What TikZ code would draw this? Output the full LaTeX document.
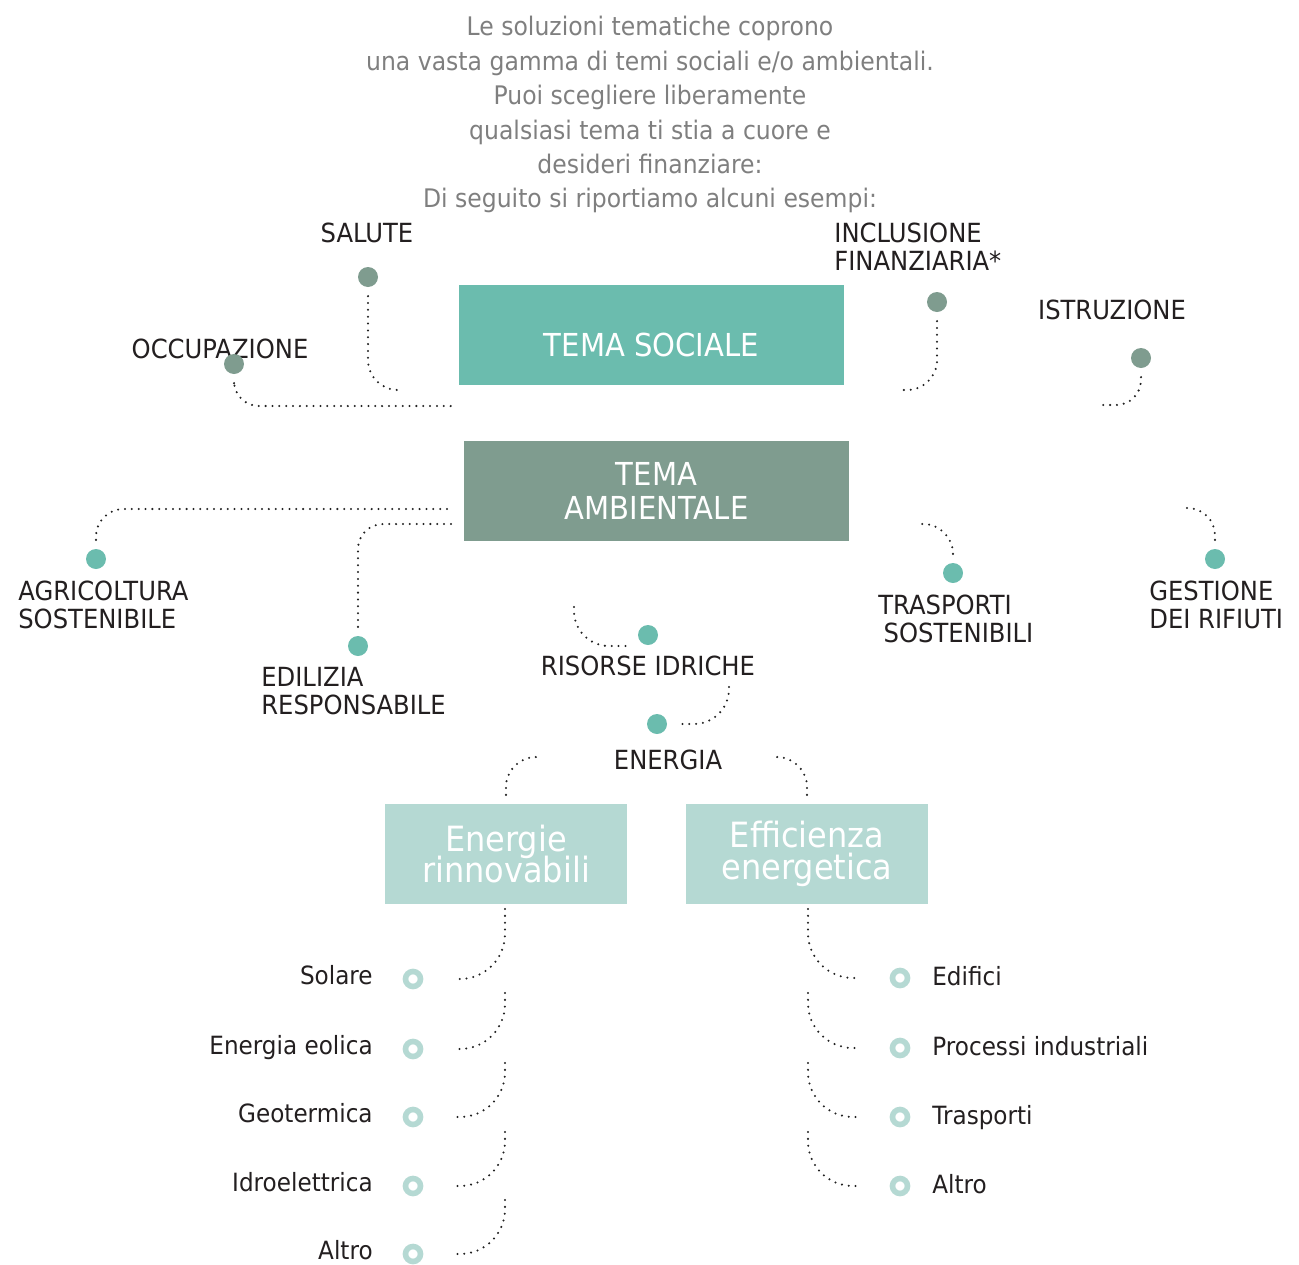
\documentclass[tikz,border=0pt]{standalone}
\usepackage{fontspec}
\setmainfont{DejaVu Sans}[FakeStretch=0.92]
\definecolor{socteal}{HTML}{6BBCAE}
\definecolor{ambsage}{HTML}{7F9C8F}
\definecolor{enlight}{HTML}{B5D9D3}
\definecolor{txtgray}{HTML}{7F7F7F}
\definecolor{txtdark}{HTML}{231F20}
\definecolor{lnkdark}{HTML}{222222}
\newcommand\tightlines{\lineskiplimit-10pt\relax}

\begin{document}
\begin{tikzpicture}[x=0.02cm,y=-0.02cm,
  box/.style={minimum width=7.7cm,minimum height=2cm,inner sep=0pt,text=white,
    font=\fontsize{18}{19.4}\selectfont,align=center},
  sub/.style={box,fill=enlight,minimum width=4.84cm,
    font=\fontsize{19.8}{18}\selectfont\tightlines},
  bullet/.style={circle,fill=#1,minimum size=0.4cm,inner sep=0pt},
  ring/.style={circle,draw=enlight,line width=3.2pt,minimum size=0.3cm,inner sep=0pt},
  lab/.style={text=txtdark,inner sep=0pt,font=\fontsize{15}{15.9}\selectfont},
  item/.style={lab,font=\fontsize{14.3}{15.9}\selectfont},
  lnk/.style={draw=lnkdark,line width=1.3pt,line cap=round,
    dash pattern=on 0pt off 3.9pt,rounded corners=#1},
  lnk/.default=0.6cm,
  gap/.style={shorten <=5pt}]
  \useasboundingbox (0,0) rectangle (1299,1265);

  % intro text
  \node[text=txtgray,align=center,inner sep=0pt,anchor=north,
    font=\fontsize{14.55}{19.6}\selectfont] (intro) at (650,16)
    {Le soluzioni tematiche coprono\\
     una vasta gamma di temi sociali e/o ambientali.\\
     Puoi scegliere liberamente\\
     qualsiasi tema ti stia a cuore e\\
     desideri finanziare:\\
     Di seguito si riportiamo alcuni esempi:};

  % the two themes
  \node[box,fill=socteal,text height=24pt,text depth=0pt] (soc) at (651.5,335) {TEMA SOCIALE};
  \node[box,fill=ambsage] (amb) at (656.5,491) {TEMA\\AMBIENTALE};
  \node[sub] (rin) at (506,854) {Energie\\rinnovabili};
  \node[sub] (eff) at (807,854) {Efficienza\\energetica};

  % labels
  \node[lab] (l-sal) at (367,233) {SALUTE};
  \node[lab] (l-occ) at (220,349) {OCCUPAZIONE};
  \node[lab,align=left,anchor=west] (l-inc) at (834,247) {INCLUSIONE\\FINANZIARIA*};
  \node[lab] (l-ist) at (1112,310) {ISTRUZIONE};
  \node[lab,align=left,anchor=west] (l-agr) at (18,605) {AGRICOLTURA\\SOSTENIBILE};
  \node[lab,align=left,anchor=west] (l-edi) at (261,691.5) {EDILIZIA\\RESPONSABILE};
  \node[lab] (l-ris) at (648,666) {RISORSE IDRICHE};
  \node[lab] (l-ene) at (668,760) {ENERGIA};
  \node[lab,align=left,anchor=west] (l-tra) at (878,619) {TRASPORTI\\\hspace*{3pt}SOSTENIBILI};
  \node[lab,align=left,anchor=west] (l-ges) at (1149,605) {GESTIONE\\DEI RIFIUTI};

  % dots
  \node[bullet=ambsage] (sal) at (368,277) {};
  \node[bullet=ambsage] (occ) at (234,364) {};
  \node[bullet=ambsage] (inc) at (937,302) {};
  \node[bullet=ambsage] (ist) at (1141,358) {};
  \node[bullet=socteal] (agr) at (96,559) {};
  \node[bullet=socteal] (edi) at (358,646) {};
  \node[bullet=socteal] (ris) at (648,635) {};
  \node[bullet=socteal] (ene) at (657,724) {};
  \node[bullet=socteal] (tra) at (953,573) {};
  \node[bullet=socteal] (ges) at (1215,559) {};

  % free ends
  \coordinate (occ-e) at (453,406);
  \coordinate (sal-e) at (402,390);
  \coordinate (inc-e) at (903,390);
  \coordinate (ist-e) at (1103,405);
  \coordinate (agr-e) at (453,509);
  \coordinate (edi-e) at (453,524);
  \coordinate (tra-e) at (920,524);
  \coordinate (ges-e) at (1183,508);
  \coordinate (ris-a) at (574,607);
  \coordinate (ris-e) at (628,646);
  \coordinate (ene-a) at (729,687);
  \coordinate (rin-e) at (540,757);
  \coordinate (eff-e) at (775,757);

  \draw[lnk=0.5cm,gap] (occ) |- (occ-e);
  \draw[lnk,gap] (sal) |- (sal-e);
  \draw[lnk,gap] (inc) |- (inc-e);
  \draw[lnk=0.5cm,gap] (ist) |- (ist-e);
  \draw[lnk=0.55cm,gap] (agr) |- (agr-e);
  \draw[lnk=0.5cm,gap] (edi) |- (edi-e);
  \draw[lnk,gap] (tra) |- (tra-e);
  \draw[lnk=0.55cm,gap] (ges) |- (ges-e);
  \draw[lnk=0.7cm] (ris-a) |- (ris-e);
  \draw[lnk=0.7cm,shorten >=5pt] (ene-a) |- (ene);
  \draw[lnk,gap] (rin) |- (rin-e);
  \draw[lnk,gap] (eff) |- (eff-e);

  % renewable sources
  \foreach \t/\y/\s [count=\i] in {909/979/Solare, 993/1049/Energia eolica,
      1063/1117/Geotermica, 1132/1186/Idroelettrica, 1200/1254/Altro} {
    \node[item,anchor=base east] (tl\i) at (373,\y+5.5) {\s};
    \node[ring] (rl\i) at (413,\y) {};
    \coordinate (al\i) at (505,\t);
    \coordinate (bl\i) at (457,\y);
    \draw[lnk=0.9cm] (al\i) |- (bl\i);
  }

  % efficiency fields
  \foreach \t/\y/\s [count=\i] in {909/978/Edifici, 993/1048/Processi industriali,
      1063/1117/Trasporti, 1132/1186/Altro} {
    \node[item,anchor=base west] (tr\i) at (932,\y+7.5) {\s};
    \node[ring] (rr\i) at (900,\y) {};
    \coordinate (ar\i) at (808,\t);
    \coordinate (br\i) at (858,\y);
    \draw[lnk=0.9cm] (ar\i) |- (br\i);
  }
\end{tikzpicture}
\end{document}
